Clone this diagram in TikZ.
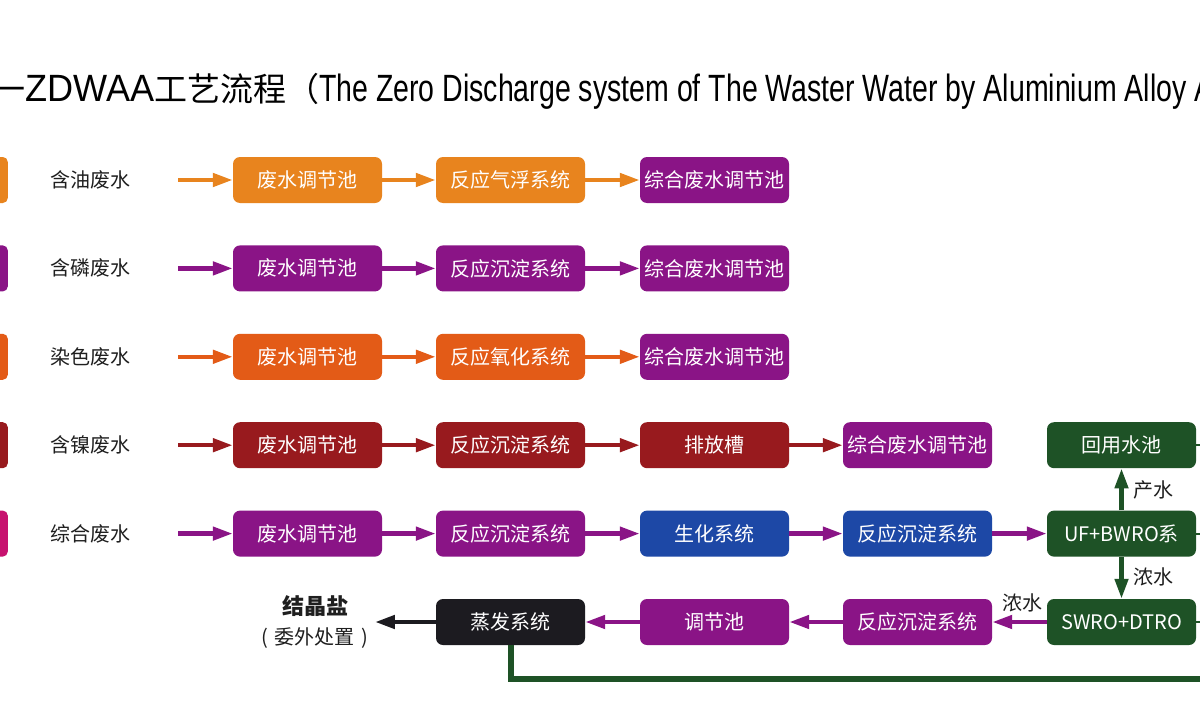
\documentclass[tikz,border=0pt]{standalone}
\usepackage{fontspec}
\setmainfont{Noto Sans CJK SC}
\newfontfamily\latinT[FakeStretch=0.75]{Liberation Sans}
\newfontfamily\latinZ[FakeStretch=0.95]{Liberation Sans}
\usetikzlibrary{arrows.meta}
\definecolor{cOrange}{HTML}{E8841E}
\definecolor{cPurple}{HTML}{8A1486}
\definecolor{cRedOr}{HTML}{E35B17}
\definecolor{cDRed}{HTML}{981A1E}
\definecolor{cMag}{HTML}{C7126F}
\definecolor{cBlue}{HTML}{1D48A6}
\definecolor{cGreen}{HTML}{1E5226}
\definecolor{cBlack}{HTML}{1C1B20}
\begin{document}
\begin{tikzpicture}[x=1pt,y=-1pt,
  box/.style={rounded corners=7pt, minimum width=149pt, minimum height=46pt, inner sep=0pt,
    text=white, font=\fontsize{20}{22}\selectfont, fill=#1},
  lab/.style={font=\fontsize{20}{22}\selectfont, text=black!88, inner sep=0pt, anchor=west},
  arr/.style={draw=#1, line width=4.5pt, -{Triangle[length=20pt,width=13pt]}},
  bar/.style={fill=#1, rounded corners=5pt, minimum width=26pt, minimum height=46pt, inner sep=0pt, anchor=east},
  note/.style={font=\fontsize{20}{22}\selectfont, text=black!88, inner sep=0pt}]
\useasboundingbox (0,0) rectangle (1200,720);
\clip (0,0) rectangle (1200,720);
\fill[white] (0,0) rectangle (1200,720);

% title
\node[anchor=base west, inner sep=0pt] (title) at (-8,101)
  {\fontsize{33}{36}\selectfont 一{\latinZ\fontsize{38}{40}\selectfont ZDWAA}工艺流程（{\latinT\fontsize{38}{40}\selectfont The Zero Discharge system of The Waster Water by Aluminium Alloy An}};

% left colour bars
\node[bar=cOrange] (k1) at (8,180) {};
\node[bar=cPurple] (k2) at (8,268.4) {};
\node[bar=cRedOr] (k3) at (8,356.8) {};
\node[bar=cDRed] (k4) at (8,445.2) {};
\node[bar=cMag] (k5) at (8,533.6) {};

% row labels
\node[lab] (l1) at (50,180) {含油废水};
\node[lab] (l2) at (50,268.4) {含磷废水};
\node[lab] (l3) at (50,356.8) {染色废水};
\node[lab] (l4) at (50,445.2) {含镍废水};
\node[lab] (l5) at (50,533.6) {综合废水};

% row 1
\node[box=cOrange] (a1) at (307.5,180) {废水调节池};
\node[box=cOrange] (a2) at (510.5,180) {反应气浮系统};
\node[box=cPurple] (a3) at (714.5,180) {综合废水调节池};
% row 2
\node[box=cPurple] (b1) at (307.5,268.4) {废水调节池};
\node[box=cPurple] (b2) at (510.5,268.4) {反应沉淀系统};
\node[box=cPurple] (b3) at (714.5,268.4) {综合废水调节池};
% row 3
\node[box=cRedOr] (c1) at (307.5,356.8) {废水调节池};
\node[box=cRedOr] (c2) at (510.5,356.8) {反应氧化系统};
\node[box=cPurple] (c3) at (714.5,356.8) {综合废水调节池};
% row 4
\node[box=cDRed] (d1) at (307.5,445.2) {废水调节池};
\node[box=cDRed] (d2) at (510.5,445.2) {反应沉淀系统};
\node[box=cDRed] (d3) at (714.5,445.2) {排放槽};
\node[box=cPurple] (d4) at (917.5,445.2) {综合废水调节池};
\node[box=cGreen] (reuse) at (1121.5,445.2) {回用水池};
% row 5
\node[box=cPurple] (e1) at (307.5,533.6) {废水调节池};
\node[box=cPurple] (e2) at (510.5,533.6) {反应沉淀系统};
\node[box=cBlue] (e3) at (714.5,533.6) {生化系统};
\node[box=cBlue] (e4) at (917.5,533.6) {反应沉淀系统};
\node[box=cGreen] (uf) at (1121.5,533.6) {UF+BWRO系};
% row 6
\node[box=cBlack] (evap) at (510.5,622) {蒸发系统};
\node[box=cPurple] (f3) at (714.5,622) {调节池};
\node[box=cPurple] (f4) at (917.5,622) {反应沉淀系统};
\node[box=cGreen] (swro) at (1121.5,622) {SWRO+DTRO};
\node[note, align=center, font=\fontsize{20}{30}\selectfont] (salt) at (315,622)
  {{\fontsize{22}{24}\selectfont\textbf{结晶盐}}\\(\hspace{7pt}委外处置\hspace{7pt})};

% arrows rows 1-5
\draw[arr=cOrange] ([xshift=48pt]l1.east) -- (a1);
\draw[arr=cOrange] (a1) -- (a2);
\draw[arr=cOrange] (a2) -- (a3);
\draw[arr=cPurple] ([xshift=48pt]l2.east) -- (b1);
\draw[arr=cPurple] (b1) -- (b2);
\draw[arr=cPurple] (b2) -- (b3);
\draw[arr=cRedOr] ([xshift=48pt]l3.east) -- (c1);
\draw[arr=cRedOr] (c1) -- (c2);
\draw[arr=cRedOr] (c2) -- (c3);
\draw[arr=cDRed] ([xshift=48pt]l4.east) -- (d1);
\draw[arr=cDRed] (d1) -- (d2);
\draw[arr=cDRed] (d2) -- (d3);
\draw[arr=cDRed] (d3) -- (d4);
\draw[arr=cPurple] ([xshift=48pt]l5.east) -- (e1);
\draw[arr=cPurple] (e1) -- (e2);
\draw[arr=cPurple] (e2) -- (e3);
\draw[arr=cPurple] (e3) -- (e4);
\draw[arr=cPurple] (e4) -- (uf);
% row 6
\draw[arr=cPurple] (swro) -- (f4);
\draw[arr=cPurple] (f4) -- (f3);
\draw[arr=cPurple] (f3) -- (evap);
\draw[arr=cBlack] (evap) -- ([xshift=6pt]salt.east);
% membrane system
\draw[arr=cGreen] (uf) -- (reuse);
\draw[arr=cGreen] (uf) -- (swro);
\node[note, anchor=west] (t1) at (1133,490) {产水};
\node[note, anchor=west] (t2) at (1133,577) {浓水};
\node[note] (t3) at (1022,603) {浓水};
% outgoing lines at right edge
\coordinate (o1) at (1215,445.2);
\coordinate (o2) at (1215,533.6);
\coordinate (o3) at (1215,622);
\coordinate (o4) at (1215,678.5);
\draw[cGreen, line width=2pt] (reuse) -- (o1);
\draw[cGreen, line width=2pt] (uf) -- (o2);
\draw[cGreen, line width=2pt] (swro) -- (o3);
\draw[cGreen, line width=6pt] (evap.south) |- (o4);
\end{tikzpicture}
\end{document}
